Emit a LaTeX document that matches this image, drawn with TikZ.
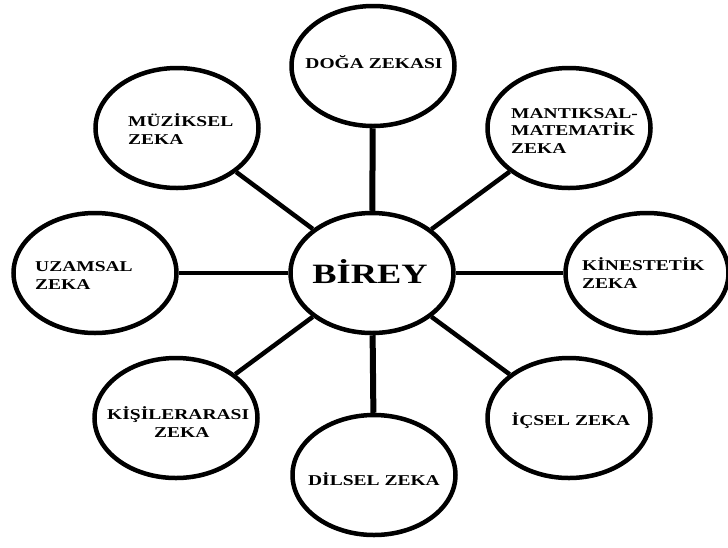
\documentclass[tikz,border=0pt]{standalone}
\usepackage{fontspec}
\setmainfont{Liberation Serif}[FakeStretch=1.3]
\usetikzlibrary{shapes.geometric}

\tikzset{
  zone/.style={ellipse, draw=black, line width=4.5pt, fill=white,
    minimum width=163pt, minimum height=120pt, inner sep=0pt},
  link/.style={line width=4.5pt, draw=black},
  vlink/.style={line width=6pt, draw=black},
  lbl/.style={inner sep=0pt, align=left,
    font=\bfseries\fontsize{15}{17.5}\selectfont},
  core/.style={inner sep=0pt, font=\bfseries\fontsize{28}{32}\selectfont}
}

\begin{document}
\begin{tikzpicture}[x=1pt,y=-1pt]
  \clip (0,0) rectangle (728,547);
  \fill[white] (0,0) rectangle (728,547);

  % ellipses
  \node[zone] (birey)  at (372,273) {};
  \node[zone] (doga)   at (373,66)  {};
  \node[zone] (muzik)  at (177,128) {};
  \node[zone] (mant)   at (569,128) {};
  \node[zone] (uzam)   at (95,273)  {};
  \node[zone] (kines)  at (647,273) {};
  \node[zone] (kisi)   at (176,418) {};
  \node[zone] (icsel)  at (569,418) {};
  \node[zone] (dilsel) at (374,475) {};

  % spokes from the centre
  \draw[vlink] (birey) -- (doga);
  \draw[vlink] (birey) -- (dilsel);
  \draw[link]  (birey) -- (uzam);
  \draw[link]  (birey) -- (kines);
  \draw[link]  (birey) -- (muzik);
  \draw[link]  (birey) -- (mant);
  \draw[link]  (birey) -- (kisi);
  \draw[link]  (birey) -- (icsel);

  % labels (multi-line blocks are anchored on their last baseline)
  \node[core, anchor=base] (tbirey) at (370,283) {BİREY};
  \node[lbl, anchor=base] (tdoga) at (374,68) {DOĞA ZEKASI};
  \node[lbl, anchor=base west] (tmuzik) at (128,144) {MÜZİKSEL\\ZEKA};
  \node[lbl, anchor=base west] (tmant) at (511,153) {MANTIKSAL-\\MATEMATİK\\ZEKA};
  \node[lbl, anchor=base west] (tuzam) at (35,289) {UZAMSAL\\ZEKA};
  \node[lbl, anchor=base west] (tkines) at (582,288) {KİNESTETİK\\ZEKA};
  \node[lbl, anchor=base west] (tkisi) at (107,437) {KİŞİLERARASI\\\hspace*{47pt}ZEKA};
  \node[lbl, anchor=base] (ticsel) at (571,425) {İÇSEL ZEKA};
  \node[lbl, anchor=base] (tdilsel) at (374,485) {DİLSEL ZEKA};
\end{tikzpicture}
\end{document}
